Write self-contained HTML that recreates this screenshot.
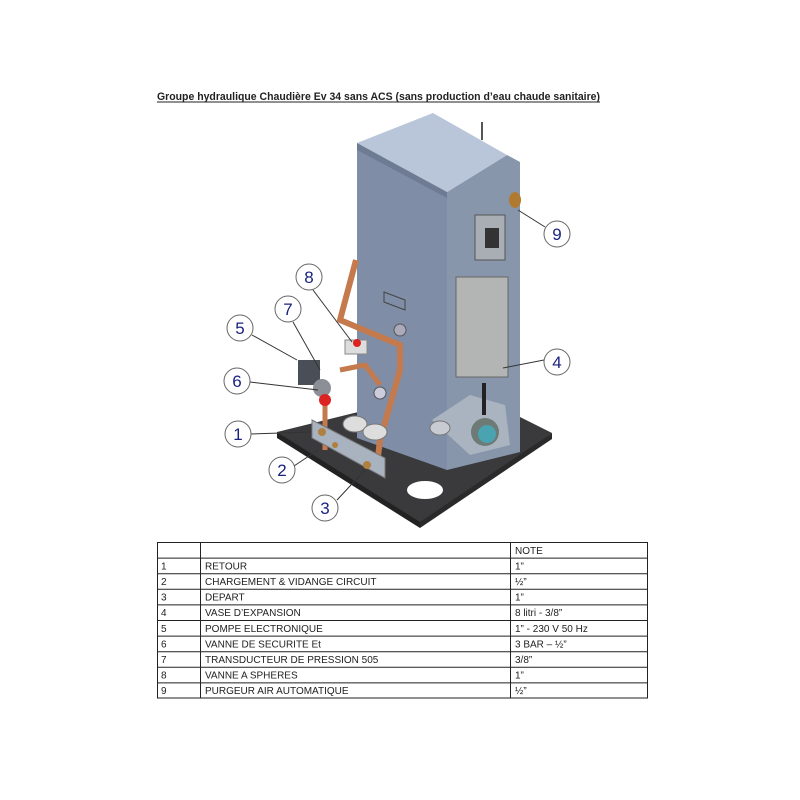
<!DOCTYPE html>
<html><head><meta charset="utf-8"><style>
html,body{margin:0;padding:0;background:#fff;}
svg{display:block;font-family:"Liberation Sans",sans-serif;}
</style></head><body>
<svg width="800" height="800" viewBox="0 0 800 800" xmlns="http://www.w3.org/2000/svg">
<rect width="800" height="800" fill="#fff"/>
<text x="157" y="100" font-size="11" font-weight="bold" fill="#222" textLength="443" lengthAdjust="spacingAndGlyphs">Groupe hydraulique Chaudière Ev 34 sans ACS (sans production d’eau chaude sanitaire)</text>
<line x1="157" y1="102" x2="600" y2="102" stroke="#222" stroke-width="1"/>

<!-- base plate -->
<polygon points="277,432 460,387 552,433 425,522 420,527" fill="#3a3a3c"/>
<polygon points="277,432 420,522 420,528 277,438" fill="#222"/>
<polygon points="420,522 552,433 552,439 420,528" fill="#2a2a2a"/>
<ellipse cx="425" cy="490" rx="18" ry="9" fill="#fff"/>

<!-- main box -->
<polygon points="357,143 447,192 447,470 357,438" fill="#7f8ea6"/>
<polygon points="447,192 507,155 520,162 520,452 447,470" fill="#8896ab"/>
<polygon points="357,143 433,113 507,155 447,192" fill="#b9c5d9"/>
<polygon points="357,143 447,192 447,198 357,150" fill="#6e7c93"/>
<line x1="482" y1="122" x2="482" y2="140" stroke="#555" stroke-width="2"/>
<!-- right face details -->
<rect x="456" y="277" width="52" height="100" fill="#b3b5b5" stroke="#666" stroke-width="1"/>
<rect x="475" y="215" width="30" height="45" fill="#a9aeb5" stroke="#555"/>
<rect x="485" y="228" width="14" height="20" fill="#333"/>
<polygon points="432,420 470,395 505,405 510,445 470,455" fill="#aab4c0"/>
<circle cx="485" cy="432" r="14" fill="#6d7a75"/>
<circle cx="487" cy="434" r="9" fill="#4aa3b0"/>
<ellipse cx="440" cy="428" rx="10" ry="7" fill="#c8ccd2" stroke="#777"/>
<rect x="482" y="383" width="4" height="32" fill="#222"/>
<ellipse cx="515" cy="200" rx="6" ry="8" fill="#b07a30"/>
<!-- left face details -->
<polygon points="384,292 405,300 405,310 384,302" fill="none" stroke="#444"/>
<circle cx="400" cy="330" r="6" fill="#aab" stroke="#555"/>
<circle cx="380" cy="393" r="6" fill="#ccd" stroke="#555"/>
<!-- pipes -->
<path d="M356,260 L340,320 L400,345 L400,370 L380,440 L377,465" fill="none" stroke="#c47a4c" stroke-width="6" stroke-linejoin="round"/>
<path d="M340,370 L365,365 L380,385" fill="none" stroke="#c47a4c" stroke-width="5"/>
<path d="M325,395 L325,450" fill="none" stroke="#c47a4c" stroke-width="5"/>
<rect x="345" y="340" width="22" height="14" fill="#ddd" stroke="#888"/>
<circle cx="357" cy="343" r="4" fill="#d22"/>
<rect x="298" y="360" width="22" height="25" fill="#4a4f57"/>
<circle cx="322" cy="388" r="9" fill="#8c8f96"/>
<circle cx="325" cy="400" r="6" fill="#d22"/>
<!-- front bracket -->
<polygon points="312,420 385,458 385,478 312,438" fill="#a9b2bf" stroke="#777"/>
<circle cx="322" cy="432" r="4" fill="#b08040"/>
<circle cx="335" cy="445" r="3" fill="#b08040"/>
<circle cx="367" cy="465" r="4" fill="#b08040"/>
<ellipse cx="355" cy="424" rx="12" ry="8" fill="#ddd" stroke="#777"/>
<ellipse cx="375" cy="432" rx="12" ry="8" fill="#ddd" stroke="#777"/>

<!-- callouts -->
<g fill="none" stroke="#333" stroke-width="1">
<line x1="545" y1="227" x2="518" y2="210"/>
<line x1="313" y1="290" x2="352" y2="342"/>
<line x1="293" y1="322" x2="320" y2="370"/>
<line x1="252" y1="335" x2="297" y2="360"/>
<line x1="250" y1="382" x2="318" y2="390"/>
<line x1="544" y1="360" x2="503" y2="368"/>
<line x1="251" y1="434" x2="311" y2="432"/>
<line x1="294" y1="466" x2="318" y2="450"/>
<line x1="337" y1="500" x2="365" y2="470"/>
</g>
<g fill="#fff" stroke="#666" stroke-width="1">
<circle cx="557" cy="234" r="13"/><circle cx="309" cy="277" r="13"/>
<circle cx="288" cy="309" r="13"/><circle cx="240" cy="328" r="13"/>
<circle cx="237" cy="381" r="13"/><circle cx="557" cy="362" r="13"/>
<circle cx="238" cy="434" r="13"/><circle cx="282" cy="470" r="13"/>
<circle cx="325" cy="508" r="13"/>
</g>
<g fill="#1a2380" font-size="17" text-anchor="middle">
<text x="557" y="240">9</text><text x="309" y="283">8</text>
<text x="288" y="315">7</text><text x="240" y="334">5</text>
<text x="237" y="387">6</text><text x="557" y="368">4</text>
<text x="238" y="440">1</text><text x="282" y="476">2</text>
<text x="325" y="514">3</text>
</g>

<!-- table -->
<g stroke="#222" stroke-width="1" fill="none">
<rect x="157.5" y="542.5" width="490" height="155.5"/>
<line x1="200.5" y1="542" x2="200.5" y2="698"/>
<line x1="510.5" y1="542" x2="510.5" y2="698"/>
<line x1="157" y1="558.1" x2="647" y2="558.1"/>
<line x1="157" y1="573.7" x2="647" y2="573.7"/>
<line x1="157" y1="589.3" x2="647" y2="589.3"/>
<line x1="157" y1="604.9" x2="647" y2="604.9"/>
<line x1="157" y1="620.5" x2="647" y2="620.5"/>
<line x1="157" y1="636.1" x2="647" y2="636.1"/>
<line x1="157" y1="651.7" x2="647" y2="651.7"/>
<line x1="157" y1="667.3" x2="647" y2="667.3"/>
<line x1="157" y1="682.9" x2="647" y2="682.9"/>
</g>
<g font-size="10" fill="#222">
<text x="515" y="554">NOTE</text>
<text x="161" y="569.5">1</text><text x="205" y="569.5">RETOUR</text><text x="515" y="569.5">1”</text>
<text x="161" y="585">2</text><text x="205" y="585">CHARGEMENT &amp; VIDANGE CIRCUIT</text><text x="515" y="585">½”</text>
<text x="161" y="600.6">3</text><text x="205" y="600.6">DEPART</text><text x="515" y="600.6">1”</text>
<text x="161" y="616.2">4</text><text x="205" y="616.2">VASE D’EXPANSION</text><text x="515" y="616.2">8 litri - 3/8”</text>
<text x="161" y="631.8">5</text><text x="205" y="631.8">POMPE ELECTRONIQUE</text><text x="515" y="631.8">1” - 230 V 50 Hz</text>
<text x="161" y="647.4">6</text><text x="205" y="647.4">VANNE DE SECURITE Et</text><text x="515" y="647.4">3 BAR – ½”</text>
<text x="161" y="663">7</text><text x="205" y="663">TRANSDUCTEUR DE PRESSION 505</text><text x="515" y="663">3/8”</text>
<text x="161" y="678.6">8</text><text x="205" y="678.6">VANNE A SPHERES</text><text x="515" y="678.6">1”</text>
<text x="161" y="694.2">9</text><text x="205" y="694.2">PURGEUR AIR AUTOMATIQUE</text><text x="515" y="694.2">½”</text>
</g>
</svg>
</body></html>
